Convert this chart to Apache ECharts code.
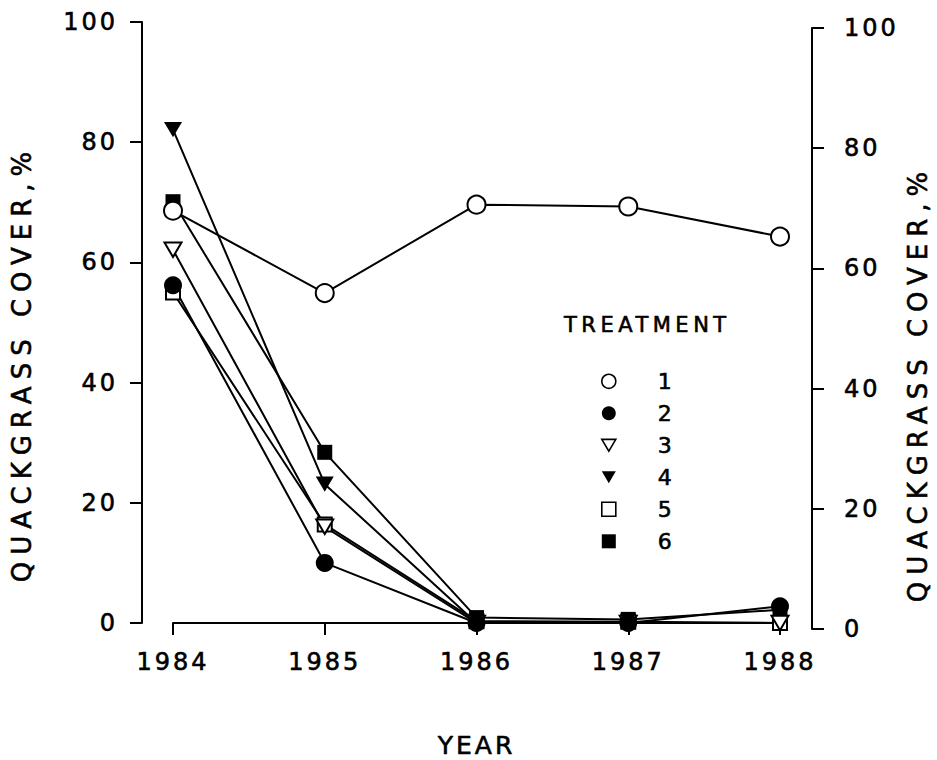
<!DOCTYPE html>
<html>
<head>
<meta charset="utf-8">
<title>Quackgrass cover</title>
<script src="https://cdn.jsdelivr.net/npm/echarts@6.0.0/dist/echarts.min.js"></script>
<style>
  html, body { margin: 0; padding: 0; background: #fff; }
  #main { width: 937px; height: 760px; }
  /* spread letters out like the plotter lettering of the original */
  #main text[style*="24px"] { letter-spacing: 3px; }
  #main text[style*="25px"] { letter-spacing: 3px; }
  #main text[style*="26px"] { letter-spacing: 7px; }
  #main text[style*="21px"] { letter-spacing: 4.5px; }
</style>
</head>
<body>
<div id="main"></div>
<script>
// data
var years = ['1984', '1985', '1986', '1987', '1988'];
var t1 = [68.6, 54.9, 69.6, 69.3, 64.3];
var t2 = [56.2, 10.0, 0, 0, 2.8];
var t3 = [62.1, 16.0, 0, 0, 0];
var t4 = [82.1, 23.1, 0, 0, 0];
var t5 = [55.0, 16.4, 0.3, 0.2, 0];
var t6 = [70.1, 28.4, 0.9, 0.6, 2.2];
var treatments = ['1', '2', '3', '4', '5', '6'];

var FONT = 'DejaVu Sans';
var downTri = 'path://M0,0L20,0L10,17Z';

// marker look for each treatment
var marks = {
  '1': { symbol: 'circle', size: 18, filled: false },
  '2': { symbol: 'circle', size: 18, filled: true },
  '3': { symbol: downTri, size: 17, filled: false },
  '4': { symbol: downTri, size: 18, filled: true },
  '5': { symbol: 'rect', size: 14, filled: false },
  '6': { symbol: 'rect', size: 15, filled: true }
};
var values = { '1': t1, '2': t2, '3': t3, '4': t4, '5': t5, '6': t6 };

function mkSeries(name) {
  var m = marks[name];
  return {
    name: name,
    type: 'line',
    data: values[name],
    symbol: m.symbol,
    symbolSize: m.size,
    symbolKeepAspect: true,
    showAllSymbol: true,
    animation: false,
    lineStyle: { color: '#000', width: 2 },
    itemStyle: {
      color: m.filled ? '#000' : '#fff',
      borderColor: '#000',
      borderWidth: m.filled ? 0 : 2
    },
    emphasis: { disabled: true }
  };
}

// drawn last-to-first so treatment 1 sits on top
var seriesList = treatments.slice().reverse().map(mkSeries);

var legendData = treatments.map(function (n) {
  var m = marks[n];
  return {
    name: n,
    icon: m.symbol,
    itemStyle: {
      color: m.filled ? '#000' : '#fff',
      borderColor: '#000',
      borderWidth: m.filled ? 0 : 1.6
    }
  };
});

// a thin outline on the glyphs gives the heavier pen look of the scan
function txt(size, extra) {
  return Object.assign({
    fontFamily: FONT, fontSize: size, color: '#000',
    textBorderColor: '#000', textBorderWidth: 0.6
  }, extra || {});
}

var axisLine = { show: true, lineStyle: { color: '#000', width: 2 } };
var axisTick = { show: true, inside: false, length: 12, lineStyle: { color: '#000', width: 2 } };

var chart = echarts.init(document.getElementById('main'), null, { renderer: 'svg' });
chart.setOption({
  backgroundColor: '#fff',
  animation: false,
  title: {
    text: 'TREATMENT',
    left: 564,
    top: 314,
    padding: 0,
    textStyle: txt(21, { fontWeight: 'normal' })
  },
  legend: {
    orient: 'vertical',
    left: 601,
    top: 370,
    padding: 0,
    itemWidth: 14,
    itemHeight: 14,
    itemGap: 9.4,
    selectedMode: false,
    data: legendData,
    textStyle: txt(22, { lineHeight: 21, padding: [0, 0, 0, 37] })
  },
  grid: [
    { left: 173, right: 157, top: 22, bottom: 137, outerBoundsMode: 'none' },
    { left: 173, right: 157, top: 28, bottom: 131, outerBoundsMode: 'none' }
  ],
  xAxis: [
    {
      type: 'category',
      gridIndex: 0,
      data: years,
      boundaryGap: false,
      name: 'YEAR',
      nameLocation: 'middle',
      nameGap: 110,
      nameMoveOverlap: false,
      nameTextStyle: txt(25),
      axisLine: axisLine,
      axisTick: axisTick,
      axisLabel: txt(24, { margin: 27 }),
      splitLine: { show: false }
    },
    {
      type: 'category',
      gridIndex: 1,
      data: years,
      boundaryGap: false,
      show: false
    }
  ],
  yAxis: [
    {
      type: 'value',
      gridIndex: 0,
      position: 'left',
      offset: 31,
      min: 0,
      max: 100,
      interval: 20,
      name: 'QUACKGRASS COVER,%',
      nameLocation: 'middle',
      nameRotate: 90,
      nameGap: 107,
      nameMoveOverlap: false,
      nameTextStyle: txt(26, { padding: [0, 82, 0, 0] }),
      axisLine: axisLine,
      axisTick: axisTick,
      axisLabel: txt(24, { margin: 24 }),
      splitLine: { show: false }
    },
    {
      type: 'value',
      gridIndex: 1,
      position: 'right',
      offset: 32,
      min: 0,
      max: 100,
      interval: 20,
      name: 'QUACKGRASS COVER,%',
      nameLocation: 'middle',
      nameRotate: 90,
      nameGap: 93,
      nameMoveOverlap: false,
      nameTextStyle: txt(26, { padding: [0, 110, 0, 0] }),
      axisLine: axisLine,
      axisTick: axisTick,
      axisLabel: txt(24, { margin: 32 }),
      splitLine: { show: false }
    }
  ],
  series: seriesList
});
</script>
</body>
</html>
